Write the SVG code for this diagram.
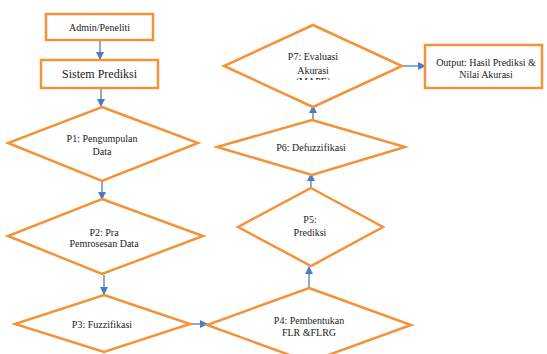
<svg xmlns="http://www.w3.org/2000/svg" width="547" height="354" viewBox="0 0 547 354">
<style>
.n{fill:#fff;stroke:#F4923A;stroke-width:2.5}
.t{font-family:'Liberation Serif','Times New Roman',Times,serif;font-size:10px;fill:#222;text-anchor:middle}
.c{stroke:#4A7DC0;stroke-width:1.3;fill:none;marker-end:url(#ah)}
</style>
<defs>
<marker id="ah" markerWidth="8" markerHeight="8" refX="7" refY="4" orient="auto" markerUnits="userSpaceOnUse">
<path d="M0,0 L8,4 L0,8 Z" fill="#4A7DC0"/>
</marker>
<clipPath id="p7clip"><rect x="0" y="0" width="547" height="80"/></clipPath>
</defs>
<rect width="547" height="354" fill="#fff"/>
<g id="connectors">
<line class="c" x1="100" y1="41" x2="100" y2="59"/>
<line class="c" x1="101" y1="89" x2="101" y2="106"/>
<line class="c" x1="102" y1="182" x2="102" y2="199"/>
<line class="c" x1="104" y1="275" x2="104" y2="294"/>
<line class="c" x1="190" y1="324" x2="207" y2="324"/>
<line class="c" x1="309" y1="288" x2="309" y2="267"/>
<line class="c" x1="311" y1="188" x2="311" y2="174"/>
<line class="c" x1="313" y1="120" x2="313" y2="106"/>
<line class="c" x1="402" y1="66" x2="425" y2="66"/>
</g>
<g id="admin">
<rect class="n" x="46" y="14" width="107" height="26"/>
<text class="t" x="99.5" y="30.5" font-family="Liberation Serif, serif">Admin/Peneliti</text>
</g>
<g id="sistem">
<rect class="n" x="41" y="60" width="117" height="28"/>
<text class="t" x="99.5" y="78" style="font-size:12px" font-family="Liberation Serif, serif">Sistem Prediksi</text>
</g>
<g id="p1">
<polygon class="n" points="102,107 198,143 102,181 8,143"/>
<text class="t" x="102" y="142">P1: Pengumpulan</text>
<text class="t" x="102" y="155">Data</text>
</g>
<g id="p2">
<polygon class="n" points="102,199 203,236 102,274 8,236"/>
<text class="t" x="104" y="236">P2: Pra</text>
<text class="t" x="104" y="247">Pemrosesan Data</text>
</g>
<g id="p3">
<polygon class="n" points="104,295 190,324 104,352 15,324"/>
<text class="t" x="102" y="328">P3: Fuzzifikasi</text>
</g>
<g id="p4">
<polygon class="n" points="309,288 411,325 309,362 207,325"/>
<text class="t" x="309" y="324">P4: Pembentukan</text>
<text class="t" x="309" y="336">FLR &amp;FLRG</text>
</g>
<g id="p5">
<polygon class="n" points="311,188 383,227 311,266 238,227"/>
<text class="t" x="310" y="223">P5:</text>
<text class="t" x="310" y="236">Prediksi</text>
</g>
<g id="p6">
<polygon class="n" points="312,120 405,147 312,175 217,147"/>
<text class="t" x="311" y="151">P6: Defuzzifikasi</text>
</g>
<g id="p7">
<polygon class="n" points="313,25 402,66 313,107 224,66"/>
<text class="t" x="313" y="60">P7: Evaluasi</text>
<text class="t" x="313" y="74">Akurasi</text>
<text class="t" x="313" y="85" clip-path="url(#p7clip)">(MAPE)</text>
</g>
<g id="output">
<rect class="n" x="425" y="45" width="117" height="43"/>
<text class="t" x="486" y="66">Output: Hasil Prediksi &amp;</text>
<text class="t" x="486" y="78">Nilai Akurasi</text>
</g>
</svg>
